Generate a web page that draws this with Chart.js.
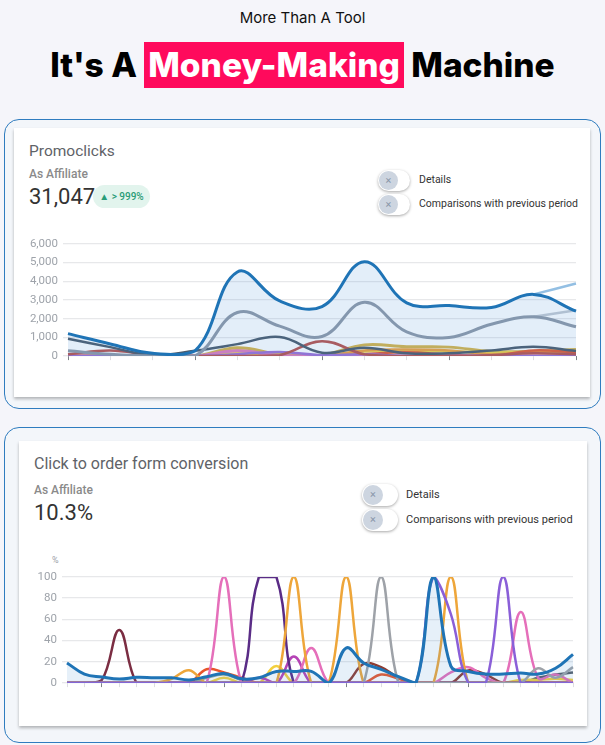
<!DOCTYPE html>
<html>
<head>
<meta charset="utf-8">
<script src="https://cdn.jsdelivr.net/npm/chart.js@4.4.1/dist/chart.umd.min.js"></script>
<style>
  body { margin: 0; width: 605px; height: 745px; background: #f5f5fa; font-family: Roboto, sans-serif; position: relative; overflow: hidden; }
  .abs { position: absolute; }
  .kicker { left: 0; width: 605px; top: 8px; text-align: center; font: 400 15px Inter, sans-serif; color: #111; line-height: 20px; }
  .headline { left: 0; width: 605px; top: 40px; text-align: center; font: 800 33.5px Inter, sans-serif; color: #000; line-height: 50px; letter-spacing: 0; }
  .headline .hl { background: #ff0a5c; color: #fff; padding: 0 4px; display: inline-block; line-height: 46px; }
  .outer { border: 1.5px solid #2f7cbf; border-radius: 15px; background: #f3f6fa; box-sizing: border-box; }
  .inner { background: #fff; box-shadow: 0 2px 3px rgba(0,0,0,0.28); }
  .title { font-size: 15.5px; color: #5f6368; line-height: 20px; }
  .sub { font-size: 12px; color: #8a8a8a; font-weight: 500; line-height: 16px; }
  .big { font-size: 22px; color: #333; line-height: 26px; }
  .badge { background: #e2f4ed; color: #2a9c78; font-size: 10px; border-radius: 12px; height: 23px; line-height: 23px; text-align: center; font-weight: 500; }
  .pill { width: 32px; height: 21px; border-radius: 11px; background: #fff; box-shadow: 0 1px 3px rgba(0,0,0,0.35); }
  .knob { position: absolute; left: 1px; top: 1px; width: 19px; height: 19px; border-radius: 50%; background: #cdd5e0; color: #8a97aa; font-size: 11px; line-height: 19px; text-align: center; }
  .tlabel { font-size: 10.5px; color: #333; line-height: 14px; }
  .pct { font-size: 9px; color: #9aa0a8; }
</style>
</head>
<body>
<div class="abs kicker">More Than A Tool</div>
<div class="abs headline">It's A <span class="hl">Money-Making</span> Machine</div>

<div class="abs outer" style="left:4px;top:119px;width:597px;height:290px;"></div>
<div class="abs inner" style="left:14px;top:128px;width:576px;height:269px;"></div>
<div class="abs title" style="left:29px;top:141px;">Promoclicks</div>
<div class="abs sub" style="left:29px;top:166px;">As Affiliate</div>
<div class="abs big" style="left:29px;top:184px;">31,047</div>
<div class="abs badge" style="left:93px;top:185px;width:57px;">&#9650; &gt; 999%</div>
<div class="abs pill" style="left:378px;top:170px;"><div class="knob">&#215;</div></div>
<div class="abs pill" style="left:378px;top:194px;"><div class="knob">&#215;</div></div>
<div class="abs tlabel" style="left:419px;top:173px;">Details</div>
<div class="abs tlabel" style="left:419px;top:197px;">Comparisons with previous period</div>
<div class="abs" style="left:10px;top:232px;width:580px;height:136px;"><canvas id="promoChart"></canvas></div>

<div class="abs outer" style="left:4px;top:427px;width:597px;height:316px;"></div>
<div class="abs inner" style="left:19px;top:441px;width:568px;height:285px;"></div>
<div class="abs title" style="left:34px;top:454px;font-size:16px;">Click to order form conversion</div>
<div class="abs sub" style="left:34px;top:482px;">As Affiliate</div>
<div class="abs big" style="left:34px;top:500px;">10.3%</div>
<div class="abs pill" style="left:362px;top:484px;width:36px;height:22px;"><div class="knob" style="width:20px;height:20px;line-height:20px;">&#215;</div></div>
<div class="abs pill" style="left:362px;top:509px;width:36px;height:22px;"><div class="knob" style="width:20px;height:20px;line-height:20px;">&#215;</div></div>
<div class="abs tlabel" style="left:406px;top:488px;font-size:11px;">Details</div>
<div class="abs tlabel" style="left:406px;top:513px;font-size:11px;">Comparisons with previous period</div>
<div class="abs pct" style="left:52px;top:555px;">%</div>
<div class="abs" style="left:10px;top:565px;width:577px;height:130px;"><canvas id="convChart"></canvas></div>

<script>
// promoclicks, 13 periods
const promoLabels = ['1', '2', '3', '4', '5', '6', '7', '8', '9', '10', '11', '12', '13'];
const promoBlue = [1200, 650, 150, 280, 4500, 2950, 2650, 5050, 2850, 2700, 2600, 3300, 2400];
const promoBluePrev = [null, null, null, null, null, null, null, null, null, null, null, 3300, 3880];
const promoGray = [280, 100, 0, 0, 2330, 1600, 1050, 2880, 1300, 1000, 1700, 2100, 1570];
const promoGrayPrev = [null, null, null, null, null, null, null, null, null, null, null, 2100, 2450];
const promoSlate = [930, 480, 50, 280, 640, 1020, 180, 450, 150, 150, 300, 500, 270];
const promoRed = [100, 300, 50, 0, 0, 50, 800, 100, 0, 0, 50, 150, 100];
const promoGold = [0, 0, 0, 0, 450, 100, 50, 600, 500, 480, 250, 250, 350];
const promoOrange = [50, 0, 0, 0, 300, 0, 0, 300, 350, 300, 100, 250, 200];
const promoYellow = [100, 50, 0, 0, 150, 0, 0, 250, 300, 250, 200, 200, 150];
const promoPurple = [0, 0, 0, 0, 100, 220, 50, 100, 0, 0, 0, 0, 0];
const promoPink = [0, 0, 0, 0, 280, 30, 0, 0, 0, 0, 0, 0, 0];
const promoOrangeRed = [0, 0, 0, 0, 0, 0, 0, 100, 200, 80, 0, 300, 200];
const promoTicks = [0, 1000, 2000, 3000, 4000, 5000, 6000];

// conversion %, 30 days
const convLabels = ['1', '2', '3', '4', '5', '6', '7', '8', '9', '10', '11', '12', '13', '14', '15',
    '16', '17', '18', '19', '20', '21', '22', '23', '24', '25', '26', '27', '28', '29', '30'];
const convBlue = [19, 8.5, 5.7, 3.8, 5.4, 5, 5, 3, 6, 9, 4, 5, 11, 11, 11, 0, 33, 19, 13, 6, 0, 100, 16, 11, 8.5, 8.5, 9.5, 8.5, 14, 27];
const convMaroon = [0, 0, 3, 50, 0, 0, 0, 0, 0, 0, 0, 0, 0, 0, 0, 0, 0, 0, 0, 0, 0, 0, 0, 0, 0, 0, 0, 0, 0, 0];
const convPink = [0, 0, 0, 0, 0, 0, 0, 0, 0, 100, 0, 0, 0, 0, 33, 0, 0, 0, 0, 0, 0, 0, 10, 15, 5, 0, 67, 5, 8, 0];
const convIndigo = [0, 0, 0, 0, 0, 0, 0, 0, 0, 0, 0, 100, 100, 0, 0, 0, 0, 0, 0, 0, 0, 0, 0, 0, 0, 0, 0, 0, 0, 0];
const convMagenta = [0, 0, 0, 0, 0, 0, 0, 0, 0, 0, 0, 5, 0, 25, 0, 0, 0, 0, 0, 0, 0, 0, 0, 0, 0, 0, 0, 0, 0, 0];
const convOrange = [0, 0, 0, 0, 0, 0, 4, 12, 0, 0, 0, 0, 0, 100, 0, 0, 100, 0, 0, 0, 0, 0, 100, 0, 0, 0, 0, 0, 0, 0];
const convGray = [0, 0, 0, 0, 0, 0, 0, 0, 0, 0, 0, 0, 0, 0, 0, 0, 0, 0, 100, 0, 0, 0, 0, 0, 0, 0, 0, 14, 5, 15];
const convViolet = [0, 0, 0, 0, 0, 0, 0, 0, 0, 0, 0, 0, 0, 0, 0, 0, 0, 0, 0, 0, 0, 100, 65, 0, 0, 100, 0, 0, 0, 0];
const convRedOrange = [0, 0, 0, 0, 0, 0, 0, 0, 13, 10, 5, 0, 0, 0, 0, 0, 0, 0, 8, 4, 0, 0, 0, 0, 0, 0, 0, 0, 0, 0];
const convBrown = [0, 0, 0, 0, 0, 0, 0, 0, 0, 0, 0, 0, 0, 0, 0, 0, 0, 18, 15, 5, 0, 0, 0, 12, 8, 0, 0, 0, 0, 0];
const convYellow = [0, 0, 0, 0, 0, 0, 0, 0, 0, 5, 0, 0, 16, 0, 0, 0, 0, 0, 0, 0, 0, 0, 0, 0, 0, 0, 3, 3, 4, 3];
const convSage = [0, 0, 0, 0, 0, 0, 0, 0, 5, 8, 3, 0, 0, 0, 0, 0, 0, 0, 0, 0, 0, 0, 0, 0, 0, 0, 0, 0, 0, 0];
const convSlate = [0, 0, 0, 0, 0, 0, 0, 0, 0, 0, 0, 0, 0, 0, 0, 0, 0, 0, 0, 0, 0, 0, 0, 0, 0, 0, 0, 5, 8, 10];
const convTicks = [0, 20, 40, 60, 80, 100];

Chart.defaults.font.family = 'Roboto, sans-serif';
Chart.defaults.animation = false;

function line(data, color, width, extra) {
    return Object.assign({
        data: data,
        borderColor: color,
        borderWidth: width || 2.5,
        pointRadius: 0,
        tension: 0.4,
        fill: false
    }, extra || {});
}

function axes(ticks, yWidth, majorEvery, majorOffset, fmt) {
    return {
        x: {
            afterFit: function (scale) { scale.height = 8; },
            border: { display: false },
            grid: {
                drawOnChartArea: false,
                drawTicks: true,
                tickLength: 4,
                lineWidth: 1,
                color: function (c) {
                    return (c.index - majorOffset) % majorEvery === 0 ? '#7d8288' : 'rgba(120,125,135,0.25)';
                }
            },
            ticks: { display: false }
        },
        y: {
            min: ticks[0],
            max: ticks[ticks.length - 1],
            afterFit: function (scale) { scale.width = yWidth; },
            afterBuildTicks: function (scale) { scale.ticks = ticks.map(v => ({ value: v })); },
            border: { display: false },
            grid: { color: '#e7e8ea', lineWidth: 1.3, tickLength: 5 },
            ticks: {
                color: '#9ea3aa',
                font: { size: 11.5 },
                padding: 5,
                callback: fmt
            }
        }
    };
}

new Chart(document.getElementById('promoChart'), {
    type: 'line',
    data: {
        labels: promoLabels,
        datasets: [
            line(promoBlue, '#1f74b6', 3, { fill: 'origin', backgroundColor: 'rgba(80,150,215,0.16)' }),
            line(promoBluePrev, '#93bfe3', 2.5),
            line(promoGray, '#8e98a6', 3),
            line(promoGrayPrev, '#c3c9d1', 2.5),
            line(promoSlate, '#4a5a6a', 2.5),
            line(promoRed, '#b9504a', 2.5),
            line(promoPurple, '#9b6fd6', 2.5),
            line(promoPink, '#e07bbf', 3),
            line(promoOrangeRed, '#e4572e', 2.5),
            line(promoOrange, '#f0a03a', 2.5),
            line(promoYellow, '#f0d444', 2.5),
            line(promoGold, '#d7b347', 3)
        ]
    },
    options: {
        responsive: true,
        maintainAspectRatio: false,
        layout: { padding: { top: 11, right: 14, left: 0, bottom: 0 } },
        plugins: { legend: { display: false }, tooltip: { enabled: false } },
        scales: axes(promoTicks, 58, 3, 0, v => v.toLocaleString('en-US'))
    }
});

new Chart(document.getElementById('convChart'), {
    type: 'line',
    data: {
        labels: convLabels,
        datasets: [
            line(convBlue, '#1f74b6', 3, { fill: 'origin', backgroundColor: 'rgba(80,150,215,0.14)' }),
            line(convViolet, '#8a5fd8', 2.5),
            line(convGray, '#9ea2a8', 2.5),
            line(convOrange, '#eea63a', 2.5),
            line(convPink, '#e56fba', 2.5),
            line(convIndigo, '#5a2c86', 2.5),
            line(convMaroon, '#7b2d42', 2.5),
            line(convMagenta, '#b543b5', 2.5),
            line(convRedOrange, '#e8552b', 2.5),
            line(convBrown, '#8e3b30', 2.5),
            line(convYellow, '#f3d03e', 2.5),
            line(convSage, '#98aa98', 2.5),
            line(convSlate, '#555e68', 2.5)
        ]
    },
    options: {
        responsive: true,
        maintainAspectRatio: false,
        layout: { padding: { top: 11, right: 14, left: 0, bottom: 0 } },
        plugins: { legend: { display: false }, tooltip: { enabled: false } },
        scales: axes(convTicks, 57, 7, 2, v => v)
    }
});
</script>
</body>
</html>
